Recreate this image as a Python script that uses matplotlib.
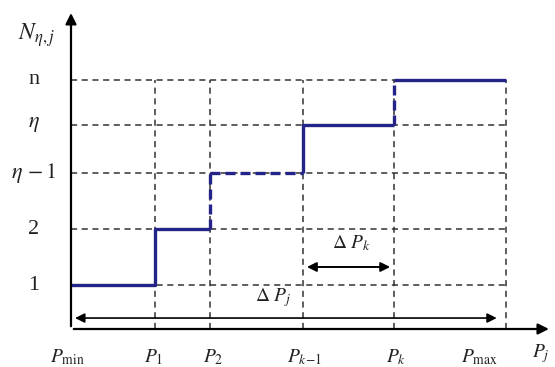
import matplotlib
matplotlib.use("Agg")
import matplotlib.pyplot as plt

plt.rcParams['mathtext.fontset'] = 'stix'
plt.rcParams['font.family'] = ['Liberation Serif', 'DejaVu Serif']

# breakpoints on the P axis (Pmin, P1, P2, Pk-1, Pk, Pmax)
p_pos = [0.0, 1.93, 3.2, 5.33, 7.43, 10.0]
p_labels = [r'$P_{\min}$', r'$P_1$', r'$P_2$', r'$P_{k\!-\!1}$', r'$P_k$', r'$P_{\max}$']
# levels of N (1, 2, eta-1, eta, n)
n_pos = [0.88, 2.0, 3.13, 4.1, 5.0]
n_labels = ['1', '2', r'$\eta\,-1$', r'$\eta$', 'n']

navy = '#232388'

fig = plt.figure(figsize=(5.55, 3.67), dpi=100)
ax = fig.add_axes([0, 0, 1, 1])
ax.set_xlim(-1.632, 11.126)
ax.set_ylim(-0.763, 6.606)
ax.axis('off')

# dashed grid
for y in n_pos:
    ax.plot([0, p_pos[-1]], [y, y], color='#333333', lw=1.1, ls=(0, (4, 3)))
for x in p_pos[1:]:
    ax.plot([x, x], [0, n_pos[-1]], color='#333333', lw=1.1, ls=(0, (4, 3)))

# step curve
solid = dict(color=navy, lw=2.4, solid_capstyle='butt')
dash = dict(color=navy, lw=2.4, ls=(0, (3, 1.5)))
ax.plot([0, p_pos[1], p_pos[1], p_pos[2]], [n_pos[0], n_pos[0], n_pos[1], n_pos[1]], **solid)
ax.plot([p_pos[2], p_pos[2]], [n_pos[1], n_pos[2]], **dash)
ax.plot([p_pos[2], p_pos[3]], [n_pos[2], n_pos[2]], **dash)
ax.plot([p_pos[3], p_pos[3], p_pos[4]], [n_pos[2], n_pos[3], n_pos[3]], **solid)
ax.plot([p_pos[4], p_pos[4]], [n_pos[3], n_pos[4]], **dash)
ax.plot([p_pos[4], p_pos[5]], [n_pos[4], n_pos[4]], **solid)

# axes with arrows
ax.annotate('', xy=(11.05, 0), xytext=(0, 0),
            arrowprops=dict(arrowstyle='-|>', color='black', lw=1.6, mutation_scale=16))
ax.annotate('', xy=(0, 6.4), xytext=(0, 0),
            arrowprops=dict(arrowstyle='-|>', color='black', lw=1.6, mutation_scale=16))

# range arrows
ax.annotate('', xy=(0.03, 0.22), xytext=(9.85, 0.22),
            arrowprops=dict(arrowstyle='<|-|>', color='black', lw=1.2, mutation_scale=14))
ax.annotate('', xy=(p_pos[3] + 0.03, 1.245), xytext=(p_pos[4] - 0.03, 1.245),
            arrowprops=dict(arrowstyle='<|-|>', color='black', lw=1.4, mutation_scale=14))
ax.text(6.45, 1.73, r'$\Delta\ P_k$', fontsize=14, ha='center', va='center', color='#222222')
ax.text(4.65, 0.64, r'$\Delta\ P_j$', fontsize=14, ha='center', va='center', color='#222222')

# labels
for y, lab in zip(n_pos, n_labels):
    ax.text(-0.85, y, lab, fontsize=16, ha='center', va='center', color='#222222')
ax.text(-0.8, 5.9, r'$N_{\eta,j}$', fontsize=17, ha='center', va='center', color='#222222')

x_lab = [-0.09, 1.9, 3.27, 5.37, 7.48, 9.4]
for x, lab in zip(x_lab, p_labels):
    ax.text(x, -0.56, lab, fontsize=14, ha='center', va='center', color='#222222')
ax.text(10.8, -0.5, r'$P_j$', fontsize=14, ha='center', va='center', color='#222222')

fig.savefig('out.png', dpi=100)
